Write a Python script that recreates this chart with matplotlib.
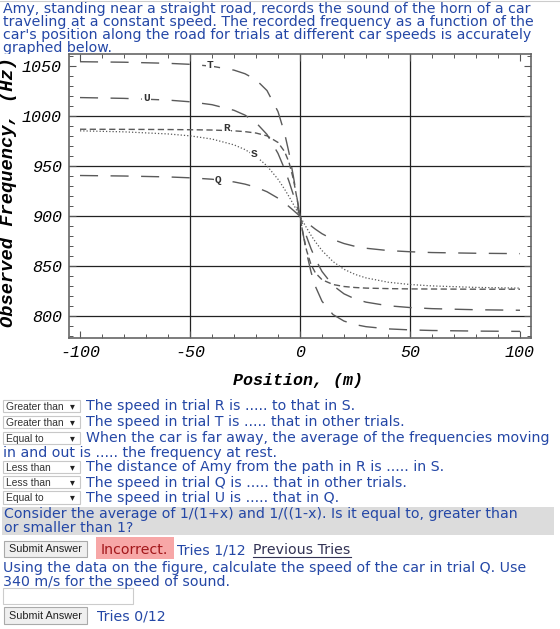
import matplotlib
matplotlib.use('Agg')
import matplotlib.pyplot as plt
from matplotlib.patches import Rectangle
from matplotlib.lines import Line2D
from matplotlib.ticker import MultipleLocator

plt.rcParams['axes.unicode_minus'] = False

# Position along the road (m) and recorded frequency (Hz) for each trial
pos = [-100, -80, -60, -50, -40, -30, -25, -20, -15, -10, -7, -5, -3, -1, 0,
       1, 3, 5, 7, 10, 15, 20, 25, 30, 40, 50, 60, 80, 100]
freq_T = [1054.3, 1053.8, 1052.7, 1051.7, 1049.8, 1045.9, 1042.3, 1036.3, 1025.5, 1004.5,
          982.9, 963.4, 939.7, 913.4, 900.0, 887.0, 863.5, 844.5, 830.0, 815.2,
          801.9, 795.4, 791.9, 789.8, 787.6, 786.6, 786.0, 785.4, 785.1]
freq_U = [1018.5, 1017.7, 1016.0, 1014.3, 1011.4, 1005.8, 1001.0, 993.5, 981.7, 962.8,
          947.1, 934.8, 921.3, 907.1, 900.0, 893.0, 879.7, 867.7, 857.4, 844.9,
          830.9, 822.6, 817.5, 814.3, 810.7, 808.9, 807.8, 806.7, 806.2]
freq_R = [986.9, 986.8, 986.6, 986.4, 986.1, 985.3, 984.5, 983.1, 980.3, 973.7,
          964.6, 953.9, 937.0, 913.3, 900.0, 887.1, 865.8, 851.9, 843.5, 836.7,
          831.9, 829.9, 828.9, 828.3, 827.8, 827.5, 827.4, 827.2, 827.2]
freq_S = [985.3, 984.3, 982.2, 980.3, 977.1, 971.3, 966.6, 959.9, 950.3, 937.0,
          927.0, 919.7, 911.9, 904.0, 900.0, 896.1, 888.4, 881.1, 874.5, 865.8,
          854.8, 847.1, 842.0, 838.5, 834.2, 831.9, 830.5, 829.0, 828.3]
freq_Q = [940.7, 940.2, 939.3, 938.4, 937.0, 934.3, 932.1, 929.0, 924.5, 918.1,
          913.3, 909.7, 905.9, 902.0, 900.0, 898.0, 894.2, 890.5, 887.1, 882.6,
          876.8, 872.8, 870.0, 868.1, 865.8, 864.6, 863.8, 863.1, 862.7]

trial_names = ['T', 'U', 'R', 'S', 'Q']
label_x = [-40.9, -69.7, -33.3, -20.8, -37.1]
label_y = [1051.4, 1017.6, 988.5, 962.0, 936.0]

xticks = [-100, -50, 0, 50, 100]
yticks = [800, 850, 900, 950, 1000, 1050]

questions = [
    ('Greater than', 'The speed in trial R is ..... to that in S.'),
    ('Greater than', 'The speed in trial T is ..... that in other trials.'),
    ('Equal to', 'When the car is far away, the average of the frequencies moving'),
    ('Less than', 'The distance of Amy from the path in R is ..... in S.'),
    ('Less than', 'The speed in trial Q is ..... that in other trials.'),
    ('Equal to', 'The speed in trial U is ..... that in Q.'),
]

W, H = 560, 629
BLUE = '#2447a6'
FS = 10.2
fig = plt.figure(figsize=(W / 100, H / 100), dpi=100)


def fx(x):
    return x / W


def fy(y):
    return 1 - y / H


def ptext(x, y, s, size=FS, color=BLUE, **kw):
    fig.text(fx(x), fy(y), s, fontsize=size, color=color, family='DejaVu Sans',
             va='baseline', ha='left', **kw)


def box(x0, y0, x1, y1, fc, ec, lw=0.8, z=1):
    fig.patches.append(Rectangle((fx(x0), fy(y1)), (x1 - x0) / W, (y1 - y0) / H,
                                 transform=fig.transFigure, facecolor=fc,
                                 edgecolor=ec, lw=lw, zorder=z))


# top border of the page
fig.add_artist(Line2D([0, 1], [fy(0.5), fy(0.5)], color='#cccccc', lw=0.8))

# intro paragraph (partly hidden under the graph image)
intro = ["Amy, standing near a straight road, records the sound of the horn of a car",
         "traveling at a constant speed. The recorded frequency as a function of the",
         "car's position along the road for trials at different car speeds is accurately",
         "graphed below."]
for i, line in enumerate(intro):
    ptext(2.7, 13.3 + 12.9 * i, line, zorder=-1)
box(0, 53.5, 545, 390, 'white', 'none', lw=0, z=-0.5)

# ---- the graph ----
ax = fig.add_axes([fx(69), fy(338), (531 - 69) / W, (338 - 54) / H])
ax.set_xlim(-105, 105)
ax.set_ylim(778.5, 1062)

gray = '#5a5a5a'
dash_long = (0, (13, 9))
ax.plot(pos, freq_T, color=gray, lw=1.0, linestyle=dash_long)
ax.plot(pos, freq_U, color=gray, lw=1.0, linestyle=dash_long)
ax.plot(pos, freq_R, color=gray, lw=1.0, linestyle=(0, (4.5, 2.5)))
ax.plot(pos, freq_S, color=gray, lw=0.9, linestyle=(0, (1, 1.6)))
ax.plot(pos, freq_Q, color=gray, lw=1.0, linestyle=dash_long)

for name, lx, ly in zip(trial_names, label_x, label_y):
    ax.text(lx, ly, name, ha='center', va='center', fontsize=8, fontweight='bold',
            family='Liberation Mono', color='#333333', zorder=5,
            bbox=dict(facecolor='white', edgecolor='none', pad=0.8))

for gx in [-50, 0, 50]:
    ax.axvline(gx, color='#222222', lw=0.9, zorder=1)
for gy in [800, 850, 900, 950, 1000]:
    ax.axhline(gy, color='#222222', lw=0.9, zorder=1)

ax.set_xticks(xticks)
ax.set_yticks(yticks)
ax.xaxis.set_minor_locator(MultipleLocator(10))
ax.yaxis.set_minor_locator(MultipleLocator(10))
ax.tick_params(which='both', direction='in', top=True, right=True, color='#555555')
ax.tick_params(which='major', length=5, width=0.8, pad=5)
ax.tick_params(which='minor', length=3, width=0.7)
for t in ax.get_xticklabels() + ax.get_yticklabels():
    t.set_family('Liberation Mono')
    t.set_fontstyle('italic')
    t.set_fontsize(12)
for sp in ax.spines.values():
    sp.set_color('#666666')
    sp.set_linewidth(1.2)

fig.text(fx(9), fy(192), 'Observed Frequency, (Hz)', rotation=90, ha='center', va='center',
         fontsize=13.5, family='Liberation Mono', style='italic', fontweight='bold')
fig.text(fx(298), fy(381), 'Position, (m)', ha='center', va='center',
         fontsize=12, family='Liberation Mono', style='italic', fontweight='bold')

# ---- question rows with drop-down selects ----
row_top = [400, 415.7, 431.7, 460.7, 476, 491.3]
row_base = [410, 425.7, 441.7, 471, 486.7, 501.7]
for (choice, text), top, base in zip(questions, row_top, row_base):
    box(2.7, top, 80, top + 12.3, 'white', '#c8c8c8')
    fig.text(fx(6.5), fy(top + 10), choice, fontsize=7.4, family='Liberation Sans',
             color='#333333', va='baseline', ha='left')
    fig.text(fx(72), fy(top + 6.2), '\u25be', fontsize=7, family='DejaVu Sans',
             color='#222222', va='center', ha='center')
    ptext(86, base, text)
ptext(2.7, 457, 'in and out is ..... the frequency at rest.')

# hint band
box(1.7, 506.7, 554, 535, '#dcdcdc', 'none', lw=0)
ptext(4, 518.3, 'Consider the average of 1/(1+x) and 1/((1-x). Is it equal to, greater than')
ptext(4, 531.8, 'or smaller than 1?')

# submit / feedback line
box(4, 540.7, 87.3, 556.7, '#efefef', '#aaaaaa')
fig.text(fx(45.6), fy(548.9), 'Submit Answer', fontsize=7.8, family='Liberation Sans',
         color='#222222', va='center', ha='center')
box(95.7, 537.3, 174, 559.3, '#f7a7a7', 'none', lw=0)
ptext(100.7, 554, 'Incorrect.', color='#a3171b')
ptext(176.7, 554, 'Tries 1/12')
ptext(253, 554, 'Previous Tries', color='#333355')
fig.add_artist(Line2D([fx(253), fx(351)], [fy(556.5), fy(556.5)], color='#333355', lw=0.8))

ptext(2.7, 572, 'Using the data on the figure, calculate the speed of the car in trial Q. Use')
ptext(2.7, 585.6, '340 m/s for the speed of sound.')
box(2.7, 588, 133.3, 604, 'white', '#cccccc')
box(4, 607.3, 87.3, 624, '#efefef', '#aaaaaa')
fig.text(fx(45.6), fy(615.6), 'Submit Answer', fontsize=7.8, family='Liberation Sans',
         color='#222222', va='center', ha='center')
ptext(96.7, 620.7, 'Tries 0/12')

fig.savefig('out.png', dpi=100)
